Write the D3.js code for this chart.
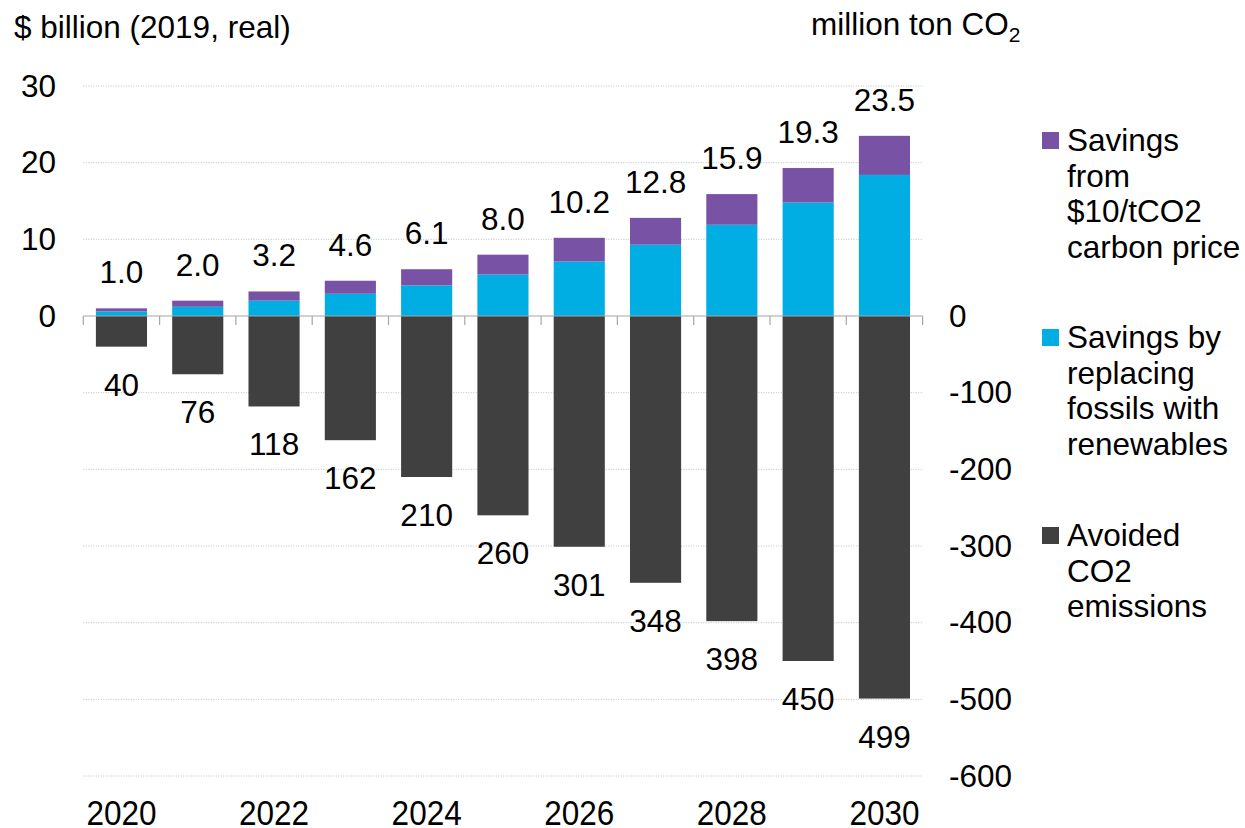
<!DOCTYPE html>
<html>
<head>
<meta charset="utf-8">
<script src="https://cdn.jsdelivr.net/npm/d3@7"></script>
<style>
  body { margin: 0; background: #fff; }
  text { font-family: "Liberation Sans", Arial, sans-serif; fill: #000; }
</style>
</head>
<body>
<script>
// values
const years = [2020, 2021, 2022, 2023, 2024, 2025, 2026, 2027, 2028, 2029, 2030];
const renewSavings = [0.6, 1.2, 2.0, 2.9, 4.0, 5.4, 7.1, 9.3, 11.9, 14.8, 18.4];
const carbonSavings = [0.4, 0.8, 1.2, 1.7, 2.1, 2.6, 3.1, 3.5, 4.0, 4.5, 5.1];
const totalLabels = ["1.0", "2.0", "3.2", "4.6", "6.1", "8.0", "10.2", "12.8", "15.9", "19.3", "23.5"];
const avoidedCO2 = [40, 76, 118, 162, 210, 260, 301, 348, 398, 450, 499];
const leftTicks = [0, 10, 20, 30];
const rightTicks = [0, -100, -200, -300, -400, -500, -600];
const yearLabels = [2020, 2022, 2024, 2026, 2028, 2030];

const legendItems = [
    { lines: ["Savings", "from", "$10/tCO2", "carbon price"], color: "#7853a5", y: 140 },
    { lines: ["Savings by", "replacing", "fossils with", "renewables"], color: "#00aee3", y: 337 },
    { lines: ["Avoided", "CO2", "emissions"], color: "#404040", y: 535 }
];

const w = 1245, h = 828;
const fs = 31.5;

const svg = d3.select("body").append("svg")
    .attr("width", w)
    .attr("height", h);

const x = d3.scaleBand()
    .domain(years)
    .range([83.3, 922.6])
    .paddingInner(0.33)
    .paddingOuter(0.165);

const yLeft = d3.scaleLinear().domain([-60, 30]).range([776, 86]);
const yRight = d3.scaleLinear().domain([-600, 300]).range([776, 86]);

// dotted gridlines (skip zero, that one is the axis line)
const gridYs = leftTicks.filter(d => d > 0).map(d => yLeft(d))
    .concat(rightTicks.filter(d => d < 0).map(d => yRight(d)));

svg.append("g")
    .selectAll("line")
    .data(gridYs)
    .enter()
    .append("line")
        .attr("x1", 83.3)
        .attr("x2", 922.6)
        .attr("y1", d => d)
        .attr("y2", d => d)
        .attr("stroke", "#bfbfbf")
        .attr("stroke-width", 1)
        .attr("stroke-dasharray", "1,1.5");

// stacked savings bars
const rows = years.map((yr, i) => ({ year: yr, renew: renewSavings[i], carbon: carbonSavings[i] }));
const stack = d3.stack().keys(["renew", "carbon"])(rows);
const stackColors = { renew: "#00aee3", carbon: "#7853a5" };

svg.append("g")
    .selectAll("g")
    .data(stack)
    .enter()
    .append("g")
        .attr("fill", d => stackColors[d.key])
    .selectAll("rect")
    .data(d => d)
    .enter()
    .append("rect")
        .attr("x", d => x(d.data.year))
        .attr("width", x.bandwidth())
        .attr("y", d => yLeft(d[1]))
        .attr("height", d => yLeft(d[0]) - yLeft(d[1]));

// avoided CO2 bars, on the right axis, pointing down
svg.append("g")
    .selectAll("rect")
    .data(avoidedCO2)
    .enter()
    .append("rect")
        .attr("x", (d, i) => x(years[i]))
        .attr("width", x.bandwidth())
        .attr("y", yRight(0))
        .attr("height", d => yRight(-d) - yRight(0))
        .attr("fill", "#404040");

// zero axis line with category ticks
const zeroY = yLeft(0);
const gap = (x.step() - x.bandwidth()) / 2;
const tickXs = years.map(yr => x(yr) - gap).concat([x(2030) + x.bandwidth() + gap]);

const zero = svg.append("g");
zero.append("line")
    .attr("x1", tickXs[0])
    .attr("x2", tickXs[tickXs.length - 1])
    .attr("y1", zeroY)
    .attr("y2", zeroY)
    .attr("stroke", "#a6a6a6")
    .attr("stroke-width", 1.2);
zero.selectAll(".tk")
    .data(tickXs)
    .enter()
    .append("line")
        .attr("class", "tk")
        .attr("x1", d => d)
        .attr("x2", d => d)
        .attr("y1", zeroY)
        .attr("y2", zeroY + 9)
        .attr("stroke", "#a6a6a6")
        .attr("stroke-width", 1.2);

// total labels above and CO2 labels below
svg.append("g")
    .selectAll("text")
    .data(totalLabels)
    .enter()
    .append("text")
        .attr("x", (d, i) => x(years[i]) + x.bandwidth() / 2)
        .attr("y", (d, i) => yLeft(renewSavings[i] + carbonSavings[i]) - 25)
        .attr("text-anchor", "middle")
        .style("font-size", fs + "px")
        .text(d => d);

svg.append("g")
    .selectAll("text")
    .data(avoidedCO2)
    .enter()
    .append("text")
        .attr("x", (d, i) => x(years[i]) + x.bandwidth() / 2)
        .attr("y", d => yRight(-d) + 49)
        .attr("text-anchor", "middle")
        .style("font-size", fs + "px")
        .text(d => d);

// left axis
const axL = svg.append("g")
    .attr("transform", "translate(83,0)")
    .call(d3.axisLeft(yLeft).tickValues(leftTicks).tickSize(0).tickPadding(27).tickFormat(d => String(d)));
axL.select(".domain").remove();
axL.selectAll("text").style("font-size", fs + "px").attr("fill", "#000");

// right axis
const axR = svg.append("g")
    .attr("transform", "translate(922,0)")
    .call(d3.axisRight(yRight).tickValues(rightTicks).tickSize(0).tickPadding(27).tickFormat(d => String(d)));
axR.select(".domain").remove();
axR.selectAll("text").style("font-size", fs + "px").attr("fill", "#000");

// year labels at the bottom (a bit taller in the original)
svg.append("g")
    .selectAll("text")
    .data(yearLabels)
    .enter()
    .append("text")
        .attr("transform", d => `translate(${x(d) + x.bandwidth() / 2},825) scale(1,1.1)`)
        .attr("text-anchor", "middle")
        .style("font-size", fs + "px")
        .text(d => d);

// axis titles
svg.append("text")
    .attr("x", 14)
    .attr("y", 38)
    .style("font-size", fs + "px")
    .text("$ billion (2019, real)");

const rt = svg.append("text")
    .attr("x", 811)
    .attr("y", 35)
    .style("font-size", fs + "px");
rt.append("tspan").text("million ton CO");
rt.append("tspan").attr("dy", 7).style("font-size", "21px").text("2");

// legend
const legend = svg.append("g").attr("id", "legend");
legendItems.forEach(item => {
    legend.append("rect")
        .attr("x", 1042)
        .attr("y", item.y - 8)
        .attr("width", 17)
        .attr("height", 17)
        .attr("fill", item.color);
    item.lines.forEach((ln, j) => {
        legend.append("text")
            .attr("x", 1067)
            .attr("y", item.y + 11 + j * 35.5)
            .style("font-size", fs + "px")
            .text(ln);
    });
});
</script>
</body>
</html>
